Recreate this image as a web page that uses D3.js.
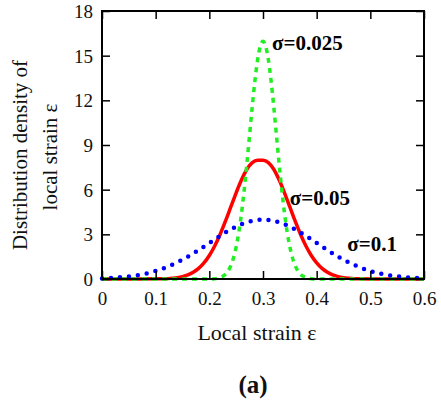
<!DOCTYPE html>
<html>
<head>
<meta charset="utf-8">
<script src="https://cdn.jsdelivr.net/npm/d3@7"></script>
<style>
  body { margin: 0; background: #fff; }
  text { font-family: "Liberation Serif", "Times New Roman", serif; }
</style>
</head>
<body>
<svg id="chart" width="441" height="400"></svg>
<script>
// ---- data ----
const xTicks = [0, 0.1, 0.2, 0.3, 0.4, 0.5, 0.6];
const xTickLabels = ["0", "0.1", "0.2", "0.3", "0.4", "0.5", "0.6"];
const yTicks = [0, 3, 6, 9, 12, 15, 18];
const yTickLabels = ["0", "3", "6", "9", "12", "15", "18"];

// sigma = 0.1 (blue dotted)
const strainBlue = [0, 0.02, 0.04, 0.06, 0.08, 0.10, 0.12, 0.14, 0.16, 0.18, 0.20, 0.22, 0.24, 0.26, 0.28, 0.30,
                    0.32, 0.34, 0.36, 0.38, 0.40, 0.42, 0.44, 0.46, 0.48, 0.50, 0.52, 0.54, 0.56, 0.58, 0.60];
const densityBlue = [0.04, 0.08, 0.14, 0.22, 0.35, 0.54, 0.79, 1.11, 1.50, 1.94, 2.42, 2.90, 3.33, 3.68, 3.91, 3.99,
                     3.91, 3.68, 3.33, 2.90, 2.42, 1.94, 1.50, 1.11, 0.79, 0.54, 0.35, 0.22, 0.14, 0.08, 0.04];

// sigma = 0.05 (red solid)
const strainRed = [0, 0.05, 0.10, 0.12, 0.13, 0.14, 0.15, 0.16, 0.17, 0.18, 0.19, 0.20, 0.21, 0.22, 0.23, 0.24, 0.25,
                   0.26, 0.27, 0.28, 0.29, 0.30, 0.31, 0.32, 0.33, 0.34, 0.35, 0.36, 0.37, 0.38, 0.39, 0.40,
                   0.41, 0.42, 0.43, 0.44, 0.45, 0.46, 0.47, 0.48, 0.50, 0.55, 0.60];
const densityRed = [0, 0, 0.01, 0.02, 0.05, 0.09, 0.16, 0.27, 0.45, 0.71, 1.08, 1.58, 2.22, 2.99, 3.88, 4.84, 5.79,
                    6.66, 7.37, 7.82, 7.98, 7.98, 7.82, 7.37, 6.66, 5.79, 4.84, 3.88, 2.99, 2.22, 1.58, 1.08,
                    0.71, 0.45, 0.27, 0.16, 0.09, 0.05, 0.02, 0.01, 0, 0, 0];

// sigma = 0.025 (green dashed)
const strainGreen = [0, 0.10, 0.20, 0.21, 0.215, 0.22, 0.225, 0.23, 0.235, 0.24, 0.245, 0.25, 0.255, 0.26, 0.265,
                     0.27, 0.275, 0.28, 0.285, 0.29, 0.295, 0.30, 0.305, 0.31, 0.315, 0.32, 0.325, 0.33, 0.335,
                     0.34, 0.345, 0.35, 0.355, 0.36, 0.365, 0.37, 0.375, 0.38, 0.385, 0.39, 0.40, 0.50, 0.60];
const densityGreen = [0, 0, 0, 0.02, 0.05, 0.10, 0.18, 0.32, 0.54, 0.90, 1.42, 2.16, 3.16, 4.43, 5.99,
                      7.76, 9.68, 11.59, 13.33, 14.73, 15.64, 15.96, 15.64, 14.73, 13.33, 11.59, 9.68, 7.76, 5.99,
                      4.43, 3.16, 2.16, 1.42, 0.90, 0.54, 0.32, 0.18, 0.10, 0.05, 0.02, 0, 0, 0];

const seriesLabels = ["σ=0.025", "σ=0.05", "σ=0.1"];

(function () {
  const svg = d3.select("#chart");
  const pLeft = 102, pRight = 424, pTop = 11, pBottom = 279;
  const serif = "'Liberation Serif', 'Times New Roman', serif";

  const x = d3.scaleLinear().domain([0, 0.6]).range([pLeft, pRight]);
  const y = d3.scaleLinear().domain([0, 18]).range([pBottom, pTop]);

  const line = (xs, ys) => d3.line()
    .x((d, i) => x(xs[i]))
    .y((d, i) => y(ys[i]))
    .curve(d3.curveMonotoneX)(ys);

  // curves
  svg.append("path")
    .attr("d", line(strainRed, densityRed))
    .attr("fill", "none").attr("stroke", "#ff0000").attr("stroke-width", 3.5);

  svg.append("path")
    .attr("d", line(strainGreen, densityGreen))
    .attr("fill", "none").attr("stroke", "#22ee22").attr("stroke-width", 3.5)
    .attr("stroke-dasharray", "5,5");

  svg.append("path")
    .attr("d", line(strainBlue, densityBlue))
    .attr("fill", "none").attr("stroke", "#0000ff").attr("stroke-width", 4.5)
    .attr("stroke-linecap", "round")
    .attr("stroke-dasharray", "0,9");

  // axes (inward ticks)
  const fmtX = (d, i) => xTickLabels[i];
  const fmtY = (d, i) => yTickLabels[i];

  const gx = svg.append("g").attr("transform", `translate(0,${pBottom})`)
    .call(d3.axisBottom(x).tickValues(xTicks).tickFormat(fmtX).tickSize(-8).tickSizeOuter(0));
  gx.selectAll("text").attr("y", 26).attr("dy", 0).style("font-size", "19px")
    .style("font-family", serif).attr("fill", "#111");

  const gy = svg.append("g").attr("transform", `translate(${pLeft},0)`)
    .call(d3.axisLeft(y).tickValues(yTicks).tickFormat(fmtY).tickSize(-8).tickSizeOuter(0));
  gy.selectAll("text").attr("x", -9).attr("dy", "0.34em").style("font-size", "19px")
    .style("font-family", serif).attr("fill", "#111");

  const gt = svg.append("g").attr("transform", `translate(0,${pTop})`)
    .call(d3.axisTop(x).tickValues(xTicks).tickFormat("").tickSize(-8).tickSizeOuter(0));
  const gr = svg.append("g").attr("transform", `translate(${pRight},0)`)
    .call(d3.axisRight(y).tickValues(yTicks).tickFormat("").tickSize(-8).tickSizeOuter(0));

  [gx, gy, gt, gr].forEach(g => {
    g.select(".domain").remove();
    g.selectAll(".tick line").attr("stroke", "#000").attr("stroke-width", 1.5);
  });

  // frame
  svg.append("rect")
    .attr("x", pLeft).attr("y", pTop).attr("width", pRight - pLeft).attr("height", pBottom - pTop)
    .attr("fill", "none").attr("stroke", "#000").attr("stroke-width", 2);

  // axis titles
  svg.append("text")
    .attr("transform", `translate(27,155) rotate(-90)`)
    .attr("text-anchor", "middle").style("font-size", "21px").style("font-family", serif).attr("fill", "#111")
    .text("Distribution density of");
  svg.append("text")
    .attr("transform", `translate(57,157) rotate(-90)`)
    .attr("text-anchor", "middle").style("font-size", "21px").style("font-family", serif).attr("fill", "#111")
    .text("local strain ε");

  svg.append("text")
    .attr("x", 257).attr("y", 340).attr("text-anchor", "middle")
    .style("font-size", "22px").style("font-family", serif).attr("fill", "#111")
    .text("Local strain ε");

  svg.append("text")
    .attr("x", 253).attr("y", 393).attr("text-anchor", "middle")
    .style("font-size", "25px").style("font-weight", "bold").style("font-family", serif).attr("fill", "#111")
    .text("(a)");

  // series annotations
  const annX = [0.3, 0.35, 0.457];
  const annY = [15.4, 5.0, 1.85];
  const annDx = [9, 0, 0];
  seriesLabels.forEach((t, i) => {
    svg.append("text")
      .attr("x", x(annX[i]) + annDx[i]).attr("y", y(annY[i]))
      .style("font-size", "21px").style("font-weight", "bold").style("font-family", serif).attr("fill", "#000")
      .text(t);
  });
})();
</script>
</body>
</html>
